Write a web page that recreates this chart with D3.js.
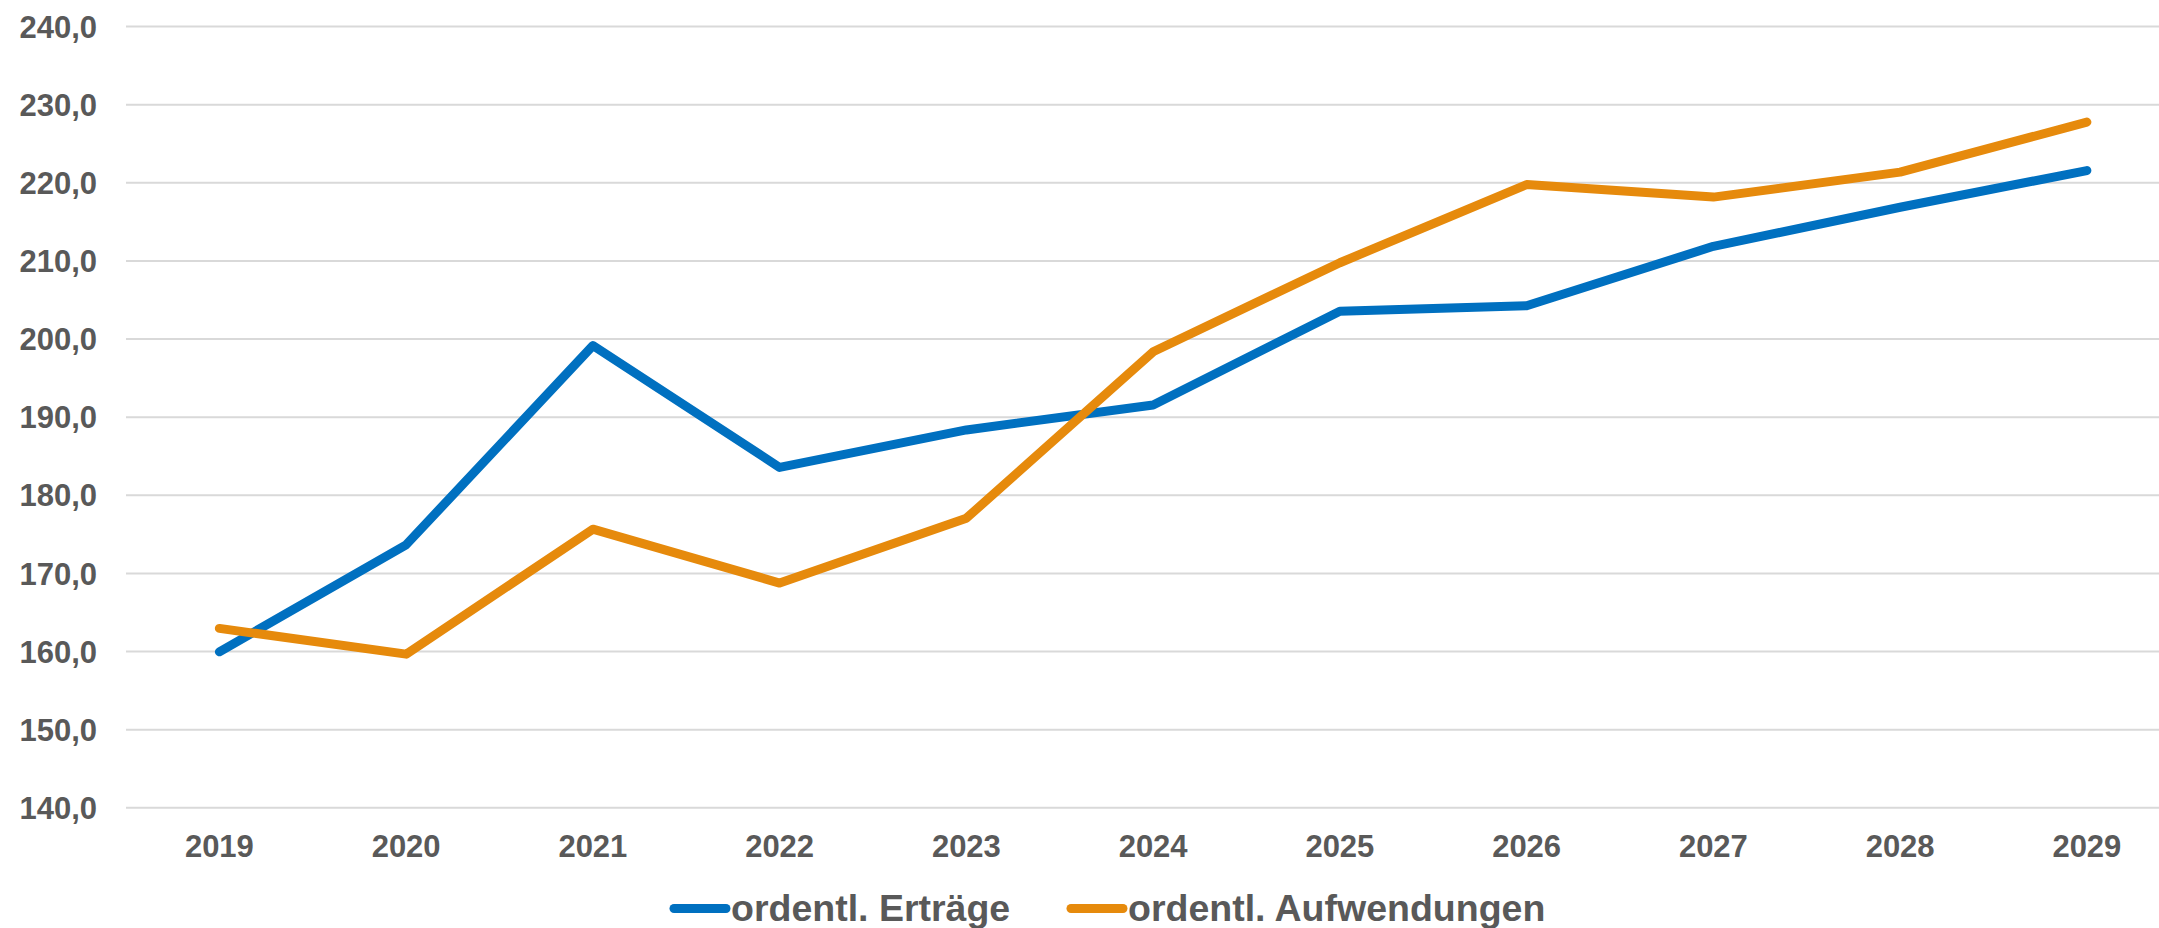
<!DOCTYPE html>
<html>
<head>
<meta charset="utf-8">
<script src="https://cdn.jsdelivr.net/npm/d3@7"></script>
<style>
  html, body { margin: 0; padding: 0; background: #fff; overflow: hidden; }
  svg { display: block; }
  text { font-family: "Liberation Sans", Arial, sans-serif; font-weight: bold; fill: #595959; }
</style>
</head>
<body>
<svg id="chart" width="2159" height="928"></svg>
<script>
const years = ["2019","2020","2021","2022","2023","2024","2025","2026","2027","2028","2029"];
const ertraege = [159.9, 173.6, 199.1, 183.5, 188.3, 191.5, 203.5, 204.2, 211.8, 216.8, 221.5];
const aufwendungen = [162.9, 159.6, 175.6, 168.7, 177.0, 198.3, 209.7, 219.7, 218.1, 221.3, 227.7];
const yTicks = [140, 150, 160, 170, 180, 190, 200, 210, 220, 230, 240];
const seriesNames = ["ordentl. Erträge", "ordentl. Aufwendungen"];
const seriesColors = ["#0070C0", "#E68A0C"];

const svg = d3.select("#chart");
const left = 126, step = 186.75;
const x = d3.scaleBand().domain(years).range([left, left + step * years.length]).padding(0);
const y = d3.scaleLinear().domain([140, 240]).range([807.3, 26]);
const fmt = v => d3.format(".1f")(v).replace(".", ",");

// gridlines
const yAxis = d3.axisLeft(y).tickValues(yTicks).tickSize(-(2159 - left)).tickFormat(fmt).tickPadding(29);
const gy = svg.append("g").attr("transform", `translate(${left},0)`).call(yAxis);
gy.select(".domain").remove();
gy.selectAll(".tick line").attr("stroke", "#D9D9D9").attr("stroke-width", 2);
gy.selectAll(".tick text").style("font-size", "31px").attr("fill", "#595959")
  .attr("font-family", "Liberation Sans, Arial, sans-serif").attr("font-weight", "bold")
  .attr("dy", "0.36em");

// x axis labels
const xAxis = d3.axisBottom(x).tickSize(0).tickPadding(0);
const gx = svg.append("g").attr("transform", `translate(0,807.3)`).call(xAxis);
gx.select(".domain").remove();
gx.selectAll(".tick text").style("font-size", "31px").attr("fill", "#595959")
  .attr("font-family", "Liberation Sans, Arial, sans-serif").attr("font-weight", "bold")
  .attr("y", 50).attr("dy", 0);

const line = d3.line().x((d, i) => x(years[i]) + x.bandwidth() / 2).y(d => y(d));
[ertraege, aufwendungen].forEach((s, k) => {
  svg.append("path").datum(s).attr("d", line).attr("fill", "none")
    .attr("stroke", seriesColors[k]).attr("stroke-width", 9)
    .attr("stroke-linecap", "round").attr("stroke-linejoin", "round");
});

// legend
const legendItems = [{x1: 674, x2: 726, tx: 731}, {x1: 1071, x2: 1123, tx: 1128}];
legendItems.forEach((it, k) => {
  svg.append("line").attr("x1", it.x1).attr("x2", it.x2).attr("y1", 908.5).attr("y2", 908.5)
    .attr("stroke", seriesColors[k]).attr("stroke-width", 9).attr("stroke-linecap", "round");
  svg.append("text").attr("x", it.tx).attr("y", 921).style("font-size", "37.5px").text(seriesNames[k]);
});
</script>
</body>
</html>
